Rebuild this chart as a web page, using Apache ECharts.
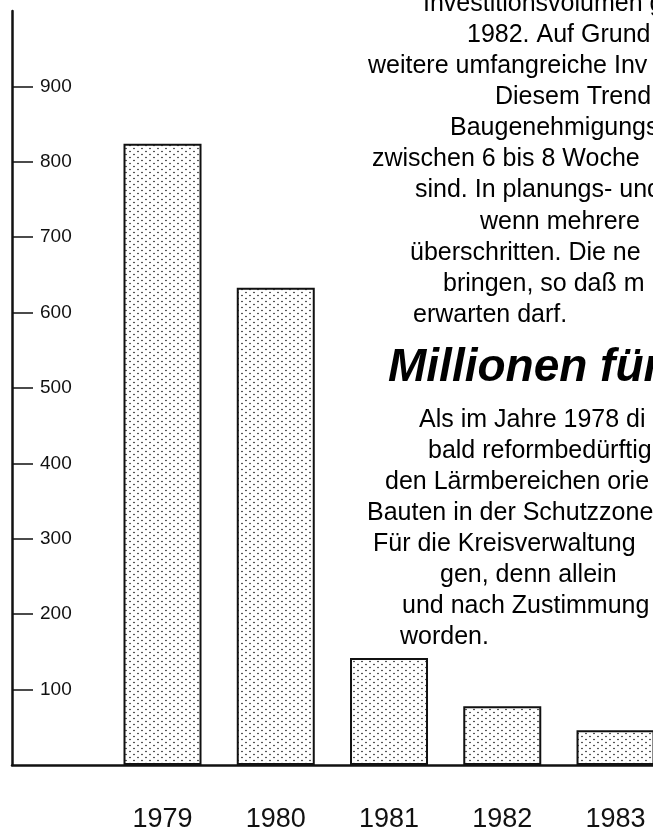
<!DOCTYPE html>
<html>
<head>
<meta charset="utf-8">
<style>
  html, body { margin: 0; padding: 0; background: #fff; }
  #main { width: 653px; height: 838px; }
</style>
<script src="https://cdn.jsdelivr.net/npm/echarts@6/dist/echarts.min.js"></script>
</head>
<body>
<div id="main"></div>
<script>
// jahre und werte
var years = [1979, 1980, 1981, 1982, 1983];
var values = [824, 633, 142, 78, 46];
var yTicks = [100, 200, 300, 400, 500, 600, 700, 800, 900];

// text der zeitungsspalte
var para1 = [
  'Investitionsvolumen g',
  '1982. Auf Grund v',
  'weitere umfangreiche Inv',
  'Diesem Trend',
  'Baugenehmigungs',
  'zwischen 6 bis 8 Woche',
  'sind. In planungs- und',
  'wenn mehrere',
  'überschritten. Die ne',
  'bringen, so daß m',
  'erwarten darf.'
];
var para1X = [423, 467, 368, 495, 450, 372, 415, 480, 410, 443, 413];
var heading = 'Millionen für';
var para2 = [
  'Als im Jahre 1978 di',
  'bald reformbedürftig',
  'den Lärmbereichen orie',
  'Bauten in der Schutzzone',
  'Für die Kreisverwaltung',
  'gen, denn allein',
  'und nach Zustimmung',
  'worden.'
];
var para2X = [419, 428, 385, 367, 373, 440, 402, 400];

// punktraster fuer die balken
function dotPattern() {
  var c = document.createElement('canvas');
  c.width = 8;
  c.height = 6;
  var ctx = c.getContext('2d');
  ctx.fillStyle = '#fff';
  ctx.fillRect(0, 0, 8, 6);
  ctx.fillStyle = '#111';
  ctx.beginPath();
  ctx.arc(2, 1.5, 0.8, 0, Math.PI * 2);
  ctx.arc(6, 4.5, 0.8, 0, Math.PI * 2);
  ctx.fill();
  return c;
}

var textFont = '25px "Liberation Sans", Arial, sans-serif';
var graphics = [];
para1.forEach(function (t, i) {
  graphics.push({
    type: 'text', x: para1X[i], y: 4 + i * 31.1,
    style: { text: t, font: textFont, fill: '#000', textVerticalAlign: 'middle', verticalAlign: 'middle' }
  });
});
graphics.push({
  type: 'text', x: 388, y: 368,
  style: { text: heading, font: 'italic 900 46px "Liberation Sans", Arial, sans-serif', fill: '#000', textVerticalAlign: 'middle', verticalAlign: 'middle' }
});
para2.forEach(function (t, i) {
  graphics.push({
    type: 'text', x: para2X[i], y: 420 + i * 31,
    style: { text: t, font: textFont, fill: '#000', textVerticalAlign: 'middle', verticalAlign: 'middle' }
  });
});

var chart = echarts.init(document.getElementById('main'), null, { renderer: 'canvas' });

chart.setOption({
  backgroundColor: '#fff',
  animation: false,
  grid: { left: 12, right: 0, top: 11, bottom: 73 },
  xAxis: {
    type: 'value',
    min: 1977.671,
    max: 1983.331,
    axisLine: { show: true, lineStyle: { color: '#111', width: 2.5 } },
    axisTick: { show: false },
    splitLine: { show: false },
    axisLabel: {
      customValues: years,
      formatter: function (v) { return String(v); },
      margin: 41,
      fontSize: 27,
      color: '#111',
      fontFamily: '"Liberation Sans", Arial, sans-serif'
    }
  },
  yAxis: {
    type: 'value',
    min: 0,
    max: 1000,
    interval: 100,
    axisLine: { show: true, lineStyle: { color: '#111', width: 2.5 } },
    axisTick: { show: true, inside: true, length: 21, customValues: yTicks, lineStyle: { color: '#111', width: 1.5 } },
    splitLine: { show: false },
    axisLabel: {
      inside: true,
      customValues: yTicks,
      margin: 28,
      fontSize: 19,
      color: '#111',
      fontFamily: '"Liberation Sans", Arial, sans-serif'
    }
  },
  series: [{
    type: 'bar',
    barWidth: 78,
    data: years.map(function (y, i) { return [y, values[i]]; }),
    itemStyle: {
      color: { image: dotPattern(), repeat: 'repeat' },
      borderColor: '#111',
      borderWidth: 2
    }
  }],
  graphic: graphics
});
</script>
</body>
</html>
